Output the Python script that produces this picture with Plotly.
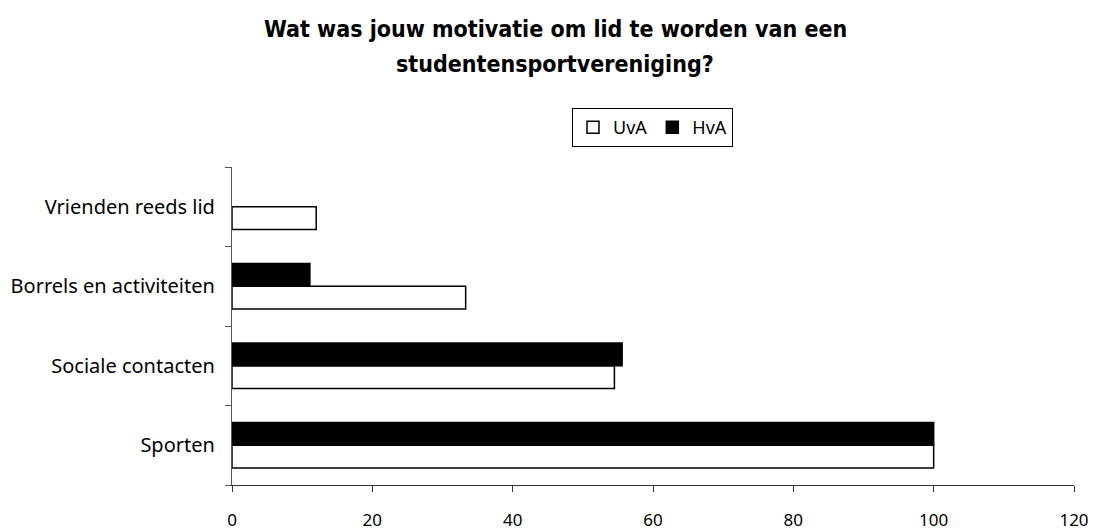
import plotly.graph_objects as go

categories = ["Sporten", "Sociale contacten", "Borrels en activiteiten", "Vrienden reeds lid"]
uva = [100, 54.5, 33.3, 12]
hva = [100, 55.6, 11.1, None]
x_ticks = [0, 20, 40, 60, 80, 100, 120]
title_lines = ["Wat was jouw motivatie om lid te worden van een", "studentensportvereniging?"]

fig = go.Figure()
fig.add_trace(go.Bar(y=categories, x=uva, orientation="h", name="UvA",
                     marker=dict(color="white", line=dict(color="black", width=1.5))))
fig.add_trace(go.Bar(y=categories, x=hva, orientation="h", name="HvA",
                     marker=dict(color="black", line=dict(color="black", width=1.5))))

W, H = 1094, 531
L, R, T, B = 232, 1074, 167, 485
pw, ph = R - L, B - T
fig.update_layout(
    width=W, height=H,
    paper_bgcolor="white", plot_bgcolor="white",
    margin=dict(l=L, r=W - R, t=T, b=H - B),
    barmode="group", bargap=0.425, bargroupgap=0,
    legend=dict(orientation="h", x=(572 - L) / pw, xanchor="left",
                y=(B - 108) / ph, yanchor="top",
                bordercolor="black", borderwidth=1,
                font=dict(family="Noto Sans", size=18, color="black"),
                itemwidth=30, tracegroupgap=0),
    font=dict(family="Noto Sans", color="black"),
)
# Title as two lines placed like the reference
for line, base in zip(title_lines, [38, 73]):
    fig.add_annotation(text="<b>" + line + "</b>", xref="paper", yref="paper",
                       x=(555 - L) / pw, xanchor="center",
                       y=1 + (T - base) / ph, yanchor="bottom", yshift=-6,
                       showarrow=False,
                       font=dict(family="DejaVu Sans Condensed", size=23, color="black"))

fig.update_xaxes(range=[0, 120], tickvals=x_ticks, showgrid=False, zeroline=False,
                 showline=True, linecolor="#333", linewidth=1.2,
                 ticks="outside", ticklen=6, tickcolor="#333",
                 ticklabelstandoff=13, automargin=False,
                 tickfont=dict(family="Noto Sans", size=17, color="black"))
fig.update_yaxes(showgrid=False, zeroline=False, showline=True, linecolor="#555", linewidth=1.2,
                 ticks="outside", ticklen=6, tickcolor="#555", tickson="boundaries",
                 ticklabelstandoff=12, automargin=False,
                 tickfont=dict(family="Noto Sans", size=20, color="black"))

fig.write_html("out.html", config={"displayModeBar": False},
               post_script="document.body.style.margin='0';")
